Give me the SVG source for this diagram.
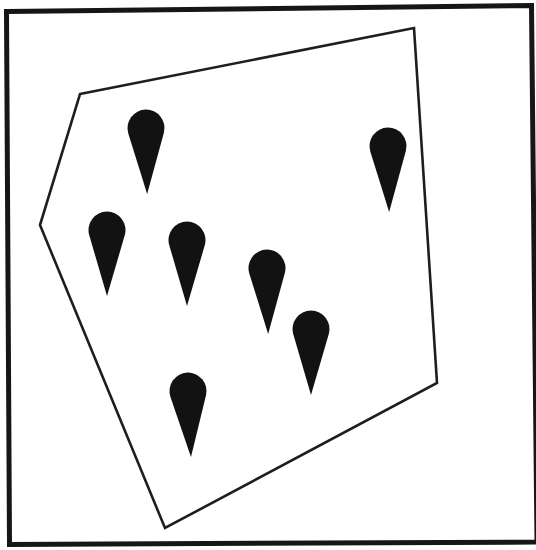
<svg xmlns="http://www.w3.org/2000/svg" xmlns:xlink="http://www.w3.org/1999/xlink" width="536" height="550" viewBox="0 0 536 550">
  <style>
    .frame { fill: none; stroke: #161616; stroke-width: 5; stroke-linejoin: miter; }
    .region { fill: none; stroke: #1e1e1e; stroke-width: 2.6; stroke-linejoin: miter; }
    .pin { fill: #121212; }
  </style>
  <defs>
    <path id="pin" d="M 0 66 L -17.8 5.1 A 18.5 18.5 0 1 1 17.8 5.1 Z"/>
  </defs>
  <rect x="0" y="0" width="536" height="550" fill="#ffffff"/>
  <g id="frame">
    <polygon class="frame" points="6.5,11.5 531.5,5.5 537,542 9.5,544.5"/>
  </g>
  <g id="region">
    <polygon class="region" points="80,94 414,28 437,383 165,528 40,225"/>
  </g>
  <g id="pin1"><use xlink:href="#pin" href="#pin" class="pin" transform="translate(146,128) rotate(-1)"/></g>
  <g id="pin2"><use xlink:href="#pin" href="#pin" class="pin" transform="translate(388,146) rotate(-1)"/></g>
  <g id="pin3"><use xlink:href="#pin" href="#pin" class="pin" transform="translate(107,230)"/></g>
  <g id="pin4"><use xlink:href="#pin" href="#pin" class="pin" transform="translate(187,240)"/></g>
  <g id="pin5"><use xlink:href="#pin" href="#pin" class="pin" transform="translate(267,268) rotate(-1)"/></g>
  <g id="pin6"><use xlink:href="#pin" href="#pin" class="pin" transform="translate(311,329)"/></g>
  <g id="pin7"><use xlink:href="#pin" href="#pin" class="pin" transform="translate(188,391) rotate(-2.6)"/></g>
</svg>
